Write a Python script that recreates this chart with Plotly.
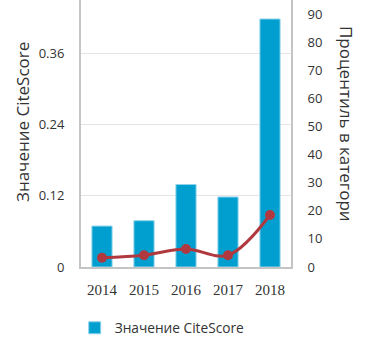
import plotly.graph_objects as go

years = ["2014", "2015", "2016", "2017", "2018"]
citescore = [0.069, 0.078, 0.139, 0.118, 0.418]
percentile = [3.3, 4.2, 6.4, 4.2, 18.5]
left_ticks = [0, 0.12, 0.24, 0.36]
left_tick_text = ["0", "0.12", "0.24", "0.36"]
right_ticks = [0, 10, 20, 30, 40, 50, 60, 70, 80, 90]

fig = go.Figure()
fig.add_trace(go.Bar(
    x=years, y=citescore, name="Значение CiteScore",
    marker=dict(color="#009fd0", line=dict(color="#8fd3ea", width=1)),
    width=0.48, yaxis="y", showlegend=True,
))
fig.add_trace(go.Scatter(
    x=years, y=percentile, name="Процентиль", yaxis="y2",
    mode="lines+markers", line=dict(color="#b0393f", width=3, shape="spline", smoothing=1.0),
    marker=dict(color="#b0393f", size=10), showlegend=False,
))

fig.update_layout(
    width=372, height=350,
    margin=dict(l=81, r=81, t=0, b=83),
    paper_bgcolor="white", plot_bgcolor="white",
    font=dict(family="Open Sans", color="#333333", size=13),
    bargap=0.52,
    xaxis=dict(
        type="category", showline=True, linecolor="#c4c4c4", linewidth=2,
        showgrid=False, ticks="", ticklabelstandoff=8,
        tickfont=dict(family="Liberation Serif", size=15, color="#333333"),
    ),
    yaxis=dict(
        range=[0, 0.45], tickvals=left_ticks, ticktext=left_tick_text,
        showline=True, linecolor="#c4c4c4", linewidth=2,
        showgrid=True, gridcolor="#e4e4e4", gridwidth=1, zeroline=False,
        ticks="", ticklabelstandoff=12, tickfont=dict(size=13),
    ),
    yaxis2=dict(
        range=[0, 95], tickvals=right_ticks, overlaying="y", side="right",
        showline=True, linecolor="#c4c4c4", linewidth=2,
        showgrid=False, zeroline=False, ticks="", ticklabelstandoff=12,
        tickfont=dict(size=13),
    ),
    legend=dict(orientation="h", x=-0.03, y=-0.17, xanchor="left", yanchor="top",
                font=dict(size=13.7)),
    annotations=[
        dict(text="Значение CiteScore", xref="paper", yref="paper", x=-0.281, y=0.543,
             textangle=-90, showarrow=False, font=dict(size=17, color="#333333"),
             xanchor="center", yanchor="middle"),
        dict(text="Процентиль в категори", xref="paper", yref="paper", x=1.265, y=0.537,
             textangle=90, showarrow=False, font=dict(size=17, color="#333333"),
             xanchor="center", yanchor="middle"),
    ],
)

fig.write_html("out.html")
